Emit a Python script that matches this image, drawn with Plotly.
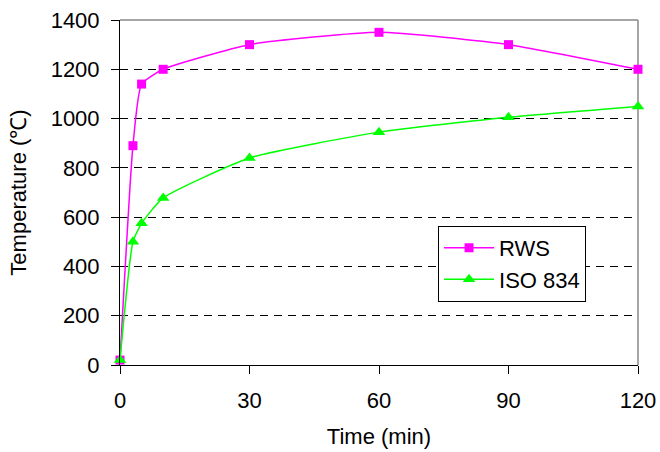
import plotly.graph_objects as go

time_min = [0, 3, 5, 10, 30, 60, 90, 120]
rws = [20, 890, 1140, 1200, 1300, 1350, 1300, 1200]
iso834 = [20, 500, 575, 678, 840, 945, 1005, 1049]
x_ticks = [0, 30, 60, 90, 120]
y_ticks = [0, 200, 400, 600, 800, 1000, 1200, 1400]

font_family = "Liberation Sans, Arial, sans-serif"

fig = go.Figure()
fig.add_trace(go.Scatter(
    x=time_min, y=rws, name="RWS", mode="lines+markers",
    line=dict(color="#FF00FF", width=1.5, shape="spline", smoothing=0.5),
    marker=dict(symbol="square", size=9, color="#FF00FF"),
    cliponaxis=False,
))
fig.add_trace(go.Scatter(
    x=time_min, y=iso834, name="ISO 834", mode="lines+markers",
    line=dict(color="#00FF00", width=1.5, shape="spline", smoothing=0.5),
    marker=dict(symbol="triangle-up", size=11, color="#00FF00"),
    cliponaxis=False,
))

fig.update_layout(
    width=660, height=452,
    margin=dict(l=120, r=22, t=20, b=87),
    paper_bgcolor="white", plot_bgcolor="white",
    font=dict(family=font_family, size=22, color="black"),
    showlegend=True,
    legend=dict(
        x=0.614, y=0.403, xanchor="left", yanchor="top",
        bordercolor="black", borderwidth=1, bgcolor="white",
        font=dict(size=22), itemwidth=50, tracegroupgap=0,
    ),
    xaxis=dict(
        range=[0, 120], tickvals=x_ticks, ticktext=[str(v) for v in x_ticks],
        showgrid=False, zeroline=False, automargin=False,
        showline=True, linecolor="black", linewidth=1,
        ticks="outside", ticklen=8, tickcolor="black",
        ticklabelstandoff=8,
        title=dict(text="Time (min)", font=dict(size=22), standoff=16),
    ),
    yaxis=dict(
        range=[0, 1400], tickvals=y_ticks, ticktext=[str(v) for v in y_ticks],
        showgrid=True, gridcolor="black", gridwidth=1, griddash="8px,6px",
        zeroline=False, automargin=False,
        showline=True, linecolor="black", linewidth=1,
        ticks="outside", ticklen=8, tickcolor="black",
        ticklabelstandoff=7,
        title=dict(text="Temperature (℃)", font=dict(size=22), standoff=17),
    ),
)

# gray top and right frame lines
fig.add_shape(type="line", xref="paper", yref="paper", x0=0, x1=1, y0=1, y1=1,
              line=dict(color="#888888", width=1.5), layer="below")
fig.add_shape(type="line", xref="paper", yref="paper", x0=1, x1=1, y0=0, y1=1,
              line=dict(color="#888888", width=1.5), layer="below")

fig.write_html("out.html")
